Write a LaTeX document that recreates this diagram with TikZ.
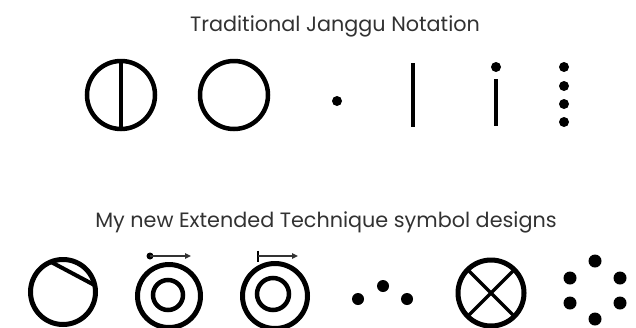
\documentclass[tikz,border=0pt]{standalone}
\usepackage{fontspec}
\setmainfont{Poppins}
\definecolor{inkGray}{RGB}{50,50,50}
\usetikzlibrary{arrows.meta,positioning,calc}

\begin{document}
\begin{tikzpicture}[x=1pt,y=-1pt,
        ring/.style={draw=black,line width=4.5pt},
        bar/.style={draw=black,line width=4pt},
        blob/.style={fill=black},
        ttl/.style={font=\fontsize{20.75}{22}\selectfont,text=inkGray,
                    anchor=base,inner sep=0pt},
        push/.style={-{Triangle[length=6pt,width=5.5pt]},line width=1.8pt,
                     draw=inkGray,shorten >=-1pt}]
        \useasboundingbox (0,0) rectangle (636,327);
        \node[ttl] (trad) at (335,31) {Traditional Janggu Notation};
        \node[ttl] (ext)  at (326,227) {My new Extended Technique symbol designs};
        % traditional row
        \coordinate (kung) at (121,95);
        \coordinate (deong) at (234,95);
        \draw[ring] (kung) circle[radius=34pt];
        \draw[bar,line width=3.5pt] ($(kung)+(0,-34)$) -- ($(kung)+(0,34)$);
        \draw[ring] (deong) circle[radius=34pt];
        \fill[blob] (337,101) circle[radius=5pt];
        \draw[bar] (413,63) -- (413,127);
        \fill[blob] (496,67) circle[radius=5pt];
        \draw[bar] (496,79) -- (496,126);
        \foreach \y in {67,86,104,122}
          \fill[blob] (564,\y) circle[radius=5pt];
        % extended row
        \coordinate (slice) at (63,292);
        \draw[ring,line width=5pt] (slice) circle[radius=32.5pt];
        \draw[bar] ($(slice)+(112:32.5pt)$) -- ($(slice)+(12:32.5pt)$);
        \coordinate (rollA) at (169,296);
        \draw[ring,line width=5pt] (rollA) circle[radius=31.5pt];
        \draw[ring] ($(rollA)+(-1,-1)$) circle[radius=15pt];
        \coordinate (dotA) at (150,256);
        \coordinate (tipA) at (190,256);
        \fill[blob] (dotA) circle[radius=3.5pt];
        \draw[push] (dotA) -- (tipA);
        \coordinate (rollB) at (275,296);
        \draw[ring,line width=5pt] (rollB) circle[radius=32.5pt];
        \draw[ring] ($(rollB)+(-2,-2)$) circle[radius=16pt];
        \coordinate (tickB) at (258,256);
        \coordinate (tipB) at (297,256);
        \draw[bar,line width=2pt] ($(tickB)+(0,-5.5)$) -- ($(tickB)+(0,5.5)$);
        \draw[push] (tickB) -- (tipB);
        \foreach \x/\y in {358/299,383/286,407/299}
          \fill[blob] (\x,\y) circle[radius=6pt];
        \coordinate (cross) at (491,293);
        \draw[ring,line width=5pt] (cross) circle[radius=33pt];
        \draw[bar,line width=3.5pt] ($(cross)+(45:33pt)$) -- ($(cross)+(225:33pt)$);
        \draw[bar,line width=3.5pt] ($(cross)+(135:33pt)$) -- ($(cross)+(315:33pt)$);
        \foreach \x/\y in {595/261,570/278,620/278,570/303,620/303,595/319}
          \fill[blob] (\x,\y) circle[radius=6.5pt];
\end{tikzpicture}
\end{document}
